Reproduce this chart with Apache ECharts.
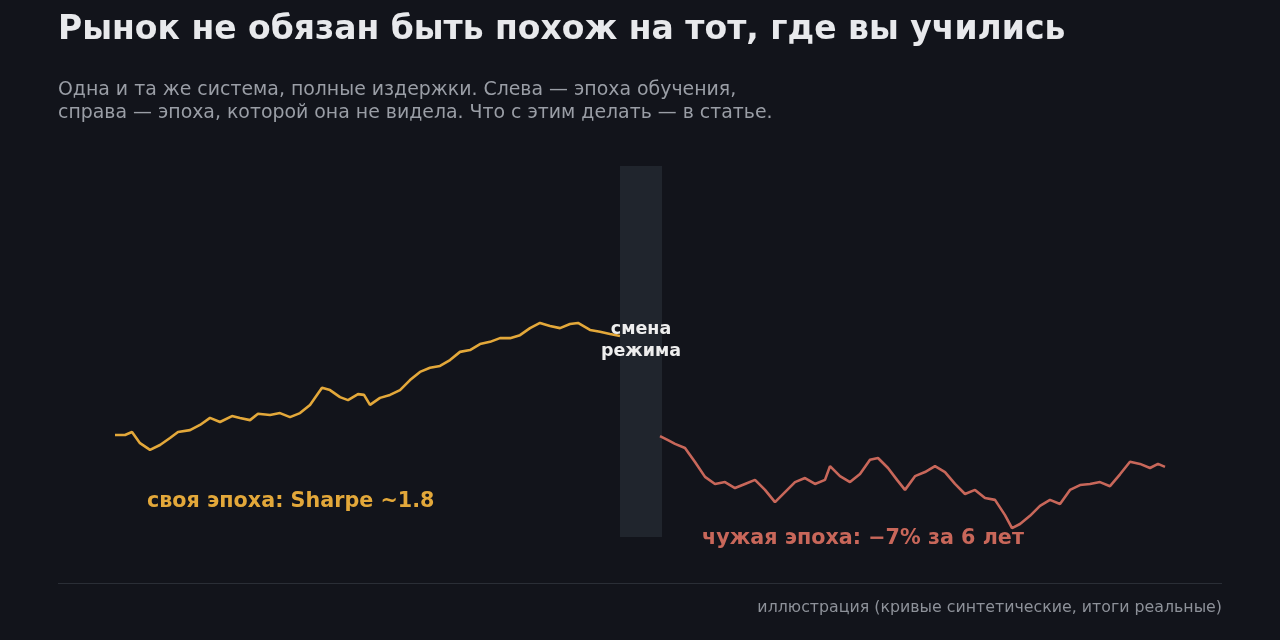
<!DOCTYPE html>
<html><head><meta charset="utf-8">
<script src="https://cdn.jsdelivr.net/npm/echarts@6/dist/echarts.min.js"></script>
<style>html,body{margin:0;background:#12141b}#c{width:1280px;height:640px}</style>
</head><body><div id="c"></div>
<script>
// day index
const ownDays = [0,10,17,25,35,45,55,63,75,85,95,105,117,125,135,143,155,165,175,185,195,207,215,225,233,243,249,255,265,275,285,295,305,315,325,335,345,355,365,375,385,395,405,415,425,435,445,455,463,475,485,495,505];
const ownEquity = [27.5,27.5,28.3,25.3,23.5,24.8,26.7,28.3,28.8,30.2,32.1,31.0,32.6,32.1,31.5,33.2,32.9,33.4,32.3,33.4,35.6,40.2,39.6,37.7,36.9,38.5,38.3,35.6,37.5,38.3,39.6,42.3,44.5,45.6,46.1,47.7,49.9,50.4,52.0,52.6,53.6,53.6,54.4,56.3,57.7,56.9,56.3,57.4,57.7,55.8,55.3,54.7,54.2];
const alienDays = [545,553,560,570,580,590,600,610,620,630,640,650,660,670,680,690,700,710,715,725,735,745,755,763,773,782,790,800,810,820,830,840,850,860,870,880,890,897,905,915,925,935,945,955,965,975,985,995,1005,1015,1025,1035,1043,1050];
const alienEquity = [27.2,26.1,25.1,24.0,20.2,16.2,14.3,14.8,13.2,14.3,15.4,12.7,9.4,12.1,14.8,15.9,14.3,15.4,19.1,16.4,14.8,17.0,20.8,21.3,18.6,15.4,12.7,16.4,17.5,19.1,17.5,14.3,11.6,12.7,10.5,10.0,5.9,2.4,3.5,5.7,8.4,10.0,8.9,12.7,14.0,14.3,14.8,13.7,16.9,20.3,19.7,18.6,19.7,18.9];
const regimeBand = [505,547];
const title = 'Рынок не обязан быть похож на тот, где вы учились';
const subtitle = 'Одна и та же система, полные издержки. Слева — эпоха обучения,\nсправа — эпоха, которой она не видела. Что с этим делать — в статье.';
const labelOwn = 'своя эпоха: Sharpe ~1.8';
const labelAlien = 'чужая эпоха: −7% за 6 лет';
const labelRegime = 'смена\nрежима';
const footer = 'иллюстрация (кривые синтетические, итоги реальные)';

const zip=(a,b)=>a.map((x,i)=>[x,b[i]]);
const F='DejaVu Sans';
const ch=echarts.init(document.getElementById('c'));
ch.setOption({
 backgroundColor:'#12141b',
 animation:false,
 title:[{text:title,left:53,top:9,textStyle:{color:'#e8e9ec',fontSize:33,fontWeight:'bold',fontFamily:F}},
  {text:subtitle,left:53,top:74,textStyle:{color:'#9a9ea6',fontSize:18.9,fontWeight:'normal',fontFamily:F,lineHeight:23}}],
 grid:{left:115,width:1050,top:166,height:371},
 xAxis:{type:'value',min:0,max:1050,show:false},
 yAxis:{type:'value',min:0,max:100,show:false},
 series:[
  {type:'line',data:zip(ownDays,ownEquity),showSymbol:false,lineStyle:{color:'#e3a83a',width:2.6},
   markArea:{silent:true,itemStyle:{color:'#20252d'},data:[[{xAxis:regimeBand[0],yAxis:0},{xAxis:regimeBand[1],yAxis:100}]]},z:3},
  {type:'line',data:zip(alienDays,alienEquity),showSymbol:false,lineStyle:{color:'#c8675a',width:2.6},z:3}
 ],
 graphic:[
  {type:'text',left:147,top:491,style:{text:labelOwn,fill:'#e3a83a',font:'bold 20.7px '+F}},
  {type:'text',left:702,top:528,style:{text:labelAlien,fill:'#c8675a',font:'bold 20.7px '+F}},
  {type:'text',x:641,y:318,z:10,style:{text:labelRegime,fill:'#eeeeee',font:'bold 17.5px '+F,align:'center',lineHeight:22}},
  {type:'line',shape:{x1:58,y1:583.5,x2:1222,y2:583.5},style:{stroke:'#2a2e36',lineWidth:1}},
  {type:'text',right:58,top:600,style:{text:footer,fill:'#8d9199',font:'15.8px '+F}}
 ]
});
</script></body></html>
